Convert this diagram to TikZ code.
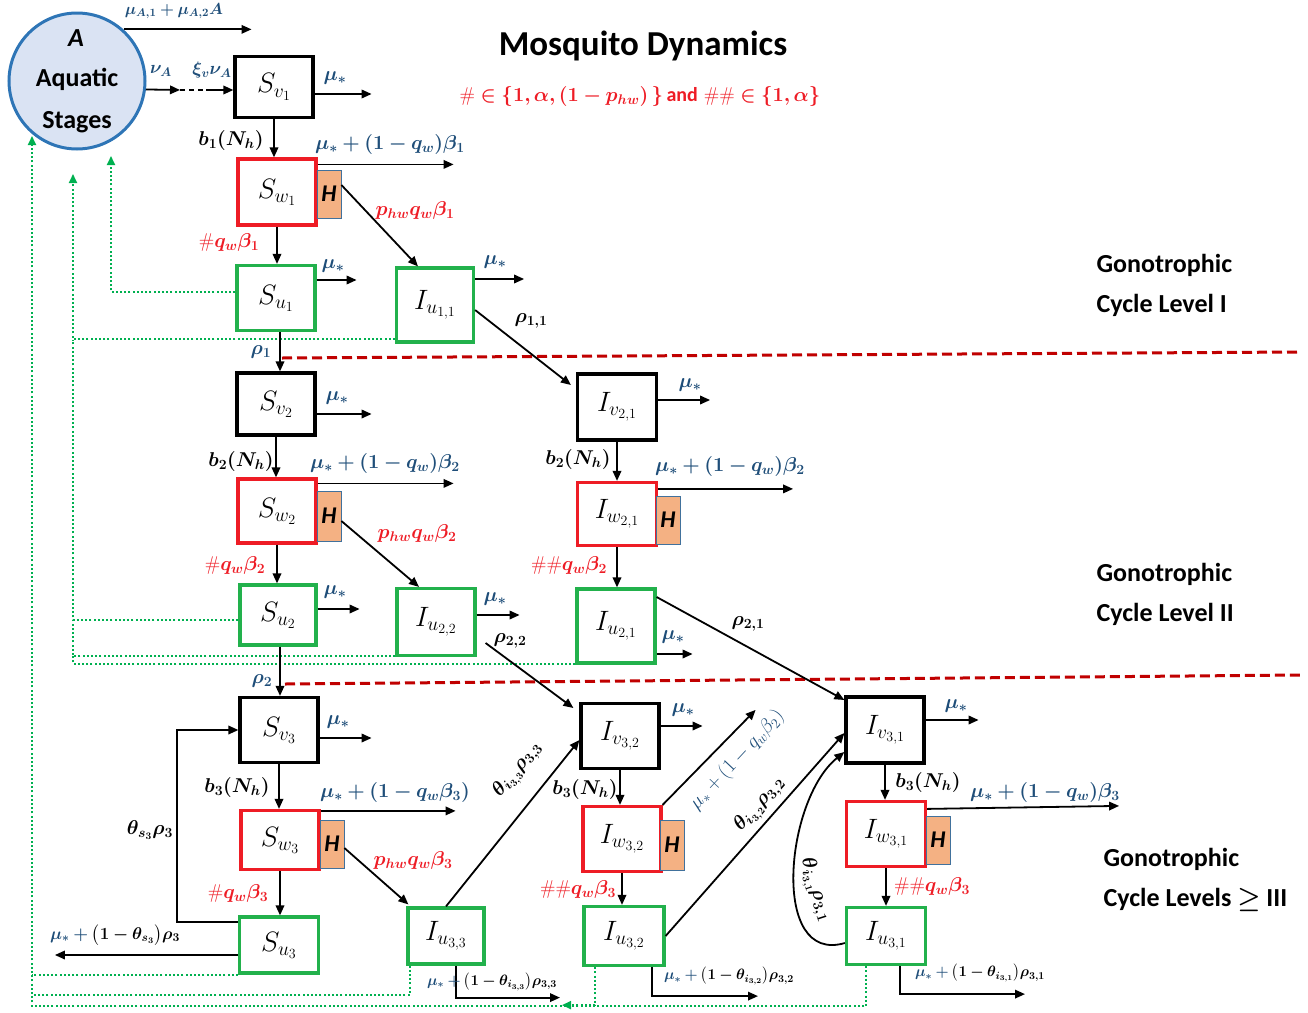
\RequirePackage{fix-cm}
\documentclass[tikz,border=0pt]{standalone}
\usepackage{amsmath}
\usepackage{bm}
\usepackage{fontspec}
\newfontfamily\carl{Carlito}
\usetikzlibrary{arrows.meta,calc}
\definecolor{lblue}{HTML}{1F4E79}
\definecolor{lred}{HTML}{EE1C25}
\definecolor{bgreen}{HTML}{22B14C}
\definecolor{dgreen}{HTML}{00B050}
\definecolor{dred}{HTML}{C00000}
\definecolor{cfill}{HTML}{DAE3F3}
\definecolor{cline}{HTML}{2E75B6}
\definecolor{hfill}{HTML}{F4B183}
\definecolor{hline}{HTML}{41719C}
\begin{document}
\begin{tikzpicture}[x=1pt,y=-1pt,
 box/.style={draw,line width=3.2pt,inner sep=0pt,font=\fontsize{28}{30}\selectfont},
 sz/.style 2 args={minimum width=#1pt,minimum height=#2pt},
 bk/.style={box,draw=black},
 rd/.style={box,draw=lred},
 gr/.style={box,draw=bgreen},
 hb/.style={draw=hline,line width=0.8pt,fill=hfill,minimum width=24pt,minimum height=48pt,inner sep=0pt,font=\carl\bfseries\itshape\fontsize{24}{24}\selectfont},
 arr/.style={line width=1.8pt,-{Triangle[length=10pt,width=8.5pt]}},
 lab/.style={font=\fontsize{20}{21}\selectfont,text=lblue,inner sep=1pt},
 rlab/.style={lab,text=lred},
 klab/.style={lab,text=black},
 slab/.style={inner sep=1pt,font=\fontsize{15}{15}\selectfont},
 gdot/.style={draw=dgreen,line width=2pt,dash pattern=on 2pt off 2.2pt},
 garr/.style={gdot,-{Triangle[length=9pt,width=8pt]}},
 rdash/.style={draw=dred,line width=3pt,dash pattern=on 10pt off 5pt},
 gtext/.style={font=\carl\bfseries\fontsize{26}{40}\selectfont,align=left,anchor=west}
]
\useasboundingbox (0,0) rectangle (1308,1012);

% ---------- aquatic stages ----------
\node[circle,draw=cline,fill=cfill,line width=3pt,minimum size=136pt,inner sep=0pt] (A) at (77,81) {};
\node[font=\carl\bfseries\itshape\fontsize{26}{26}\selectfont] (Atxt) at (76,38) {A};
\node[font=\carl\bfseries\fontsize{26}{42}\selectfont,align=center] (Stxt) at (77,101) {Aquatic\\Stages};

% ---------- titles ----------
\node[font=\carl\bfseries\fontsize{35}{40}\selectfont] (title) at (643,46) {Mosquito Dynamics};
\node[text=lred,font=\fontsize{20}{20}\selectfont] (sub) at (640,96) {$\bm{\#\in\{1,\alpha,(1-p_{hw})\,\}}$\,{\carl\bfseries and}\ $\bm{\#\#\in\{1,\alpha\}}$};
\node[gtext] (g1) at (1093,285) {Gonotrophic\\Cycle Level I};
\node[gtext] (g2) at (1093,594) {Gonotrophic\\Cycle Level II};
\node[gtext] (g3) at (1100,880) {Gonotrophic\\Cycle Levels $\bm{\geq}$ III};

% ---------- boxes ----------
\node[bk,sz={78}{61}] (sv1) at (274,87) {$S_{v_1}$};
\node[rd,sz={78}{66}] (sw1) at (277,192) {$S_{w_1}$};
\node[hb] (h1) at (329,194) {H};
\node[gr,sz={78}{65}] (su1) at (276,298) {$S_{u_1}$};
\node[gr,sz={77}{74}] (iu11) at (435,305) {$I_{u_{1,1}}$};
\node[bk,sz={78}{62}] (sv2) at (276,404) {$S_{v_2}$};
\node[bk,sz={79}{66}] (iv21) at (617,407) {$I_{v_{2,1}}$};
\node[rd,sz={78}{64}] (sw2) at (277,511) {$S_{w_2}$};
\node[hb,minimum height=50pt] (h2) at (329,516) {H};
\node[rd,sz={79}{63}] (iw21) at (617,514) {$I_{w_{2,1}}$};
\node[hb] (h21) at (668,520) {H};
\node[gr,sz={76}{60}] (su2) at (278,615) {$S_{u_2}$};
\node[gr,sz={78}{67}] (iu22) at (436,622) {$I_{u_{2,2}}$};
\node[gr,sz={78}{74}] (iu21) at (616,626) {$I_{u_{2,1}}$};
\node[bk,sz={78}{65}] (sv3) at (279,730) {$S_{v_3}$};
\node[bk,sz={78}{65}] (iv32) at (620,736) {$I_{v_{3,2}}$};
\node[bk,sz={78}{66}] (iv31) at (885,730) {$I_{v_{3,1}}$};
\node[rd,sz={78}{59}] (sw3) at (280,840) {$S_{w_3}$};
\node[hb] (h3) at (332,844) {H};
\node[rd,sz={78}{65}] (iw32) at (622,839) {$I_{w_{3,2}}$};
\node[hb,minimum height=50pt] (h32) at (672,845) {H};
\node[rd,sz={79}{65}] (iw31) at (886,834) {$I_{w_{3,1}}$};
\node[hb] (h31) at (938,840) {H};
\node[gr,sz={79}{56}] (su3) at (279,945) {$S_{u_3}$};
\node[gr,sz={76}{56}] (iu33) at (446,936) {$I_{u_{3,3}}$};
\node[gr,sz={80}{59}] (iu32) at (624,936) {$I_{u_{3,2}}$};
\node[gr,sz={79}{57}] (iu31) at (886,936) {$I_{u_{3,1}}$};

% ---------- green dotted returns ----------
\draw[garr] ([yshift=6pt]su1.west) -| (111,156);
\draw[garr] ([yshift=-34pt]iu11.west) -| (73,174);
\draw[gdot] ([yshift=-5pt]su2.west) -| (73,340);
\draw[gdot] ([yshift=-34pt]iu22.west) -| (73,620);
\draw[gdot] ([yshift=-38pt]iu21.west) -| (73,655);
\draw[garr] ([xshift=-20pt]iu31.south) -- ++(0,40) -| (32,136);
\draw[garr] ([xshift=-29pt]iu32.south) -- ++(0,38) -- ++(-33,0);
\draw[gdot] ([xshift=-36pt]iu33.south) -- ++(0,29) -- ++(-377,0);
\draw[gdot] (su3.south west) -- ++(-206,0);

% ---------- separators ----------
\coordinate (d1a) at (282,358); \coordinate (d1b) at (1300,352);
\coordinate (d2a) at (285,684); \coordinate (d2b) at (1300,675);
\draw[rdash] (d1a) -- (d1b);
\draw[rdash] (d2a) -- (d2b);

% ---------- A outflows ----------
\draw[arr] (A.48) -- ++(128,0);
\node[lab,font=\fontsize{16}{16}\selectfont] at (174,11) {$\bm{\mu_{A,1}+\mu_{A,2}A}$};
\coordinate (nu1) at (180,90); \coordinate (nu2) at (206,90);
\draw[arr] (A.-7) -- (nu1);
\draw[line width=1.6pt,dash pattern=on 5pt off 4pt] (nu1) -- (nu2);
\draw[arr] (nu2) -- (sv1.west |- nu2);
\node[lab,font=\fontsize{18}{18}\selectfont] at (161,71) {$\bm{\nu_A}$};
\node[lab,font=\fontsize{18}{18}\selectfont] at (212,70) {$\bm{\xi_v\nu_A}$};

% ---------- level I ----------
\draw[arr] ([yshift=-7pt]sv1.east) -- ++(57,0);
\node[lab] at (335,78) {$\bm{\mu_*}$};
\draw[arr] (sv1.south) -- (sv1.south |- sw1.north);
\node[klab] at (231,140) {$\bm{b_1(N_h)}$};
\draw[arr] ([yshift=-7pt]sw1.north east) -- ++(136,0);
\node[lab] at (390,144) {$\bm{\mu_*+(1-q_w)\beta_1}$};
\draw[arr] ([yshift=9pt]h1.east) -- ([xshift=-17pt]iu11.north);
\node[rlab] at (415,210) {$\bm{p_{hw}q_w\beta_1}$};
\draw[arr] (sw1.south) -- (sw1.south |- su1.north);
\node[rlab] at (229,243) {$\bm{\#q_w\beta_1}$};
\draw[arr] ([yshift=18pt]su1.east) -- ++(40,0);
\node[lab] at (333,266) {$\bm{\mu_*}$};
\draw[arr] ([xshift=4pt]su1.south) -- ([xshift=4pt]su1.south |- sv2.north);
\node[lab] at (261,352) {$\bm{\rho_1}$};
\draw[arr] ([yshift=26pt]iu11.east) -- ++(49,0);
\node[lab] at (495,262) {$\bm{\mu_*}$};
\draw[arr] ([yshift=-5pt]iu11.east) -- ([xshift=-5pt,yshift=22pt]iv21.west);
\node[klab] at (531,321) {$\bm{\rho_{1,1}}$};

% ---------- level II ----------
\draw[arr] ([yshift=-10pt]sv2.east) -- ++(55,0);
\node[lab] at (337,398) {$\bm{\mu_*}$};
\draw[arr] (sv2.south) -- (sv2.south |- sw2.north);
\node[klab] at (241,461) {$\bm{b_2(N_h)}$};
\draw[arr] ([yshift=-6pt]sw2.north east) -- ++(136,0);
\node[lab] at (385,463) {$\bm{\mu_*+(1-q_w)\beta_2}$};
\draw[arr] ([yshift=-5pt]h2.east) -- ([xshift=-17pt]iu22.north);
\node[rlab] at (417,533) {$\bm{p_{hw}q_w\beta_2}$};
\draw[arr] (sw2.south) -- (sw2.south |- su2.north);
\node[rlab] at (235,565) {$\bm{\#q_w\beta_2}$};
\draw[arr] ([yshift=6pt]su2.east) -- ++(42,0);
\node[lab] at (335,592) {$\bm{\mu_*}$};
\draw[arr] ([xshift=2pt]su2.south) -- ([xshift=2pt]su2.south |- sv3.north);
\node[lab] at (262,681) {$\bm{\rho_2}$};
\draw[arr] ([yshift=7pt]iu22.east) -- ++(43,0);
\node[lab] at (495,599) {$\bm{\mu_*}$};
\draw[arr] ([xshift=9pt,yshift=-21pt]iu22.east) -- ([xshift=-6pt,yshift=28pt]iv32.west);
\node[klab] at (510,641) {$\bm{\rho_{2,2}}$};
\draw[arr] ([yshift=7pt]iv21.east) -- ++(52,0);
\node[lab] at (690,385) {$\bm{\mu_*}$};
\draw[arr] (iv21.south) -- (iv21.south |- iw21.north);
\node[klab] at (578,459) {$\bm{b_2(N_h)}$};
\draw[arr] ([yshift=-8pt]iw21.north east) -- ++(135,0);
\node[lab] at (730,466) {$\bm{\mu_*+(1-q_w)\beta_2}$};
\draw[arr] (iw21.south) -- (iw21.south |- iu21.north);
\node[rlab] at (569,565) {$\bm{\#\#q_w\beta_2}$};
\draw[arr] ([yshift=-28pt]iu21.east) -- ++(36,0);
\node[lab] at (673,637) {$\bm{\mu_*}$};
\draw[arr] ([yshift=29pt]iu21.east) -- ([yshift=30pt]iv31.west);
\node[klab] at (748,624) {$\bm{\rho_{2,1}}$};

% ---------- level III ----------
\draw[arr] ([yshift=-8pt]sv3.east) -- ++(52,0);
\node[lab] at (338,722) {$\bm{\mu_*}$};
\draw[arr] (sv3.south) -- (sv3.south |- sw3.north);
\node[klab] at (237,787) {$\bm{b_3(N_h)}$};
\draw[arr] ([yshift=-2pt]sw3.north east) -- ++(135,0);
\node[lab] at (395,792) {$\bm{\mu_*+(1-q_w\beta_3)}$};
\draw[arr] ([yshift=-4pt]h3.east) -- ([xshift=2pt,yshift=2pt]iu33.north west);
\node[rlab] at (413,860) {$\bm{p_{hw}q_w\beta_3}$};
\draw[arr] (sw3.south) -- (sw3.south |- su3.north);
\node[rlab] at (238,893) {$\bm{\#q_w\beta_3}$};
\draw[arr] ([yshift=23pt]su3.west) -- ++(-61,0) |- (sv3.west);
\node[klab] at (150,830) {$\bm{\theta_{s_3}\rho_3}$};
\draw[arr] ([yshift=-10pt]su3.west) -- ++(-183,0);
\node[klab,font=\fontsize{17}{17}\selectfont] at (115,935) {\textcolor{lblue}{$\bm{\mu_*+{}}$}$\bigl(\bm{1-\theta_{s_3}}\bigr)\bm{\rho_3}$};

\draw[arr] (iu33.north) -- ([yshift=-4pt]iv32.west);
\node[klab,rotate=51] at (518,770) {$\bm{\theta_{i_{3,3}}\rho_{3,3}}$};
\draw[arr] ([yshift=10pt]iv32.east) -- ++(42,0);
\node[lab] at (683,710) {$\bm{\mu_*}$};
\draw[arr] (iv32.south) -- (iv32.south |- iw32.north);
\node[klab] at (585,789) {$\bm{b_3(N_h)}$};
\draw[arr] (iw32.north east) -- ++(93,-95);
\node[lab,rotate=47] at (737,760) {$\mu_*+(1-q_w\beta_2)$};
\draw[arr] (iw32.south) -- (iw32.south |- iu32.north);
\node[rlab] at (578,889) {$\bm{\#\#q_w\beta_3}$};
\draw[arr] (iu32.east) -- ([yshift=-3pt]iv31.west);
\node[klab,rotate=49] at (760,805) {$\bm{\theta_{i_{3,2}}\rho_{3,2}}$};
\draw[arr] ([yshift=-7pt]iu31.west) .. controls (770,965) and (785,800) .. ([yshift=-22pt]iv31.west);
\node[klab,rotate=-72] at (815,890) {$\bm{\theta_{i_{3,1}}\rho_{3,1}}$};
\draw[arr] ([yshift=10pt]iv31.east) -- ++(53,0);
\node[lab] at (956,706) {$\bm{\mu_*}$};
\draw[arr] (iv31.south) -- (iv31.south |- iw31.north);
\node[klab] at (928,782) {$\bm{b_3(N_h)}$};
\draw[arr] ([yshift=-9pt]iw31.north east) -- ++(192,-3);
\node[lab] at (1045,792) {$\bm{\mu_*+(1-q_w)\beta_3}$};
\draw[arr] (iw31.south) -- (iw31.south |- iu31.north);
\node[rlab] at (932,886) {$\bm{\#\#q_w\beta_3}$};

% ---------- bottom outflows ----------
\draw[arr] ([xshift=10pt]iu33.south) -- ++(0,32) -- ++(104,0);
\node[slab] at (492,982) {\textcolor{lblue}{$\bm{\mu_*+{}}$}$\bigl(\bm{1-\theta_{i_{3,3}}}\bigr)\bm{\rho_{3,3}}$};
\draw[arr] ([xshift=28pt]iu32.south) -- ++(0,29) -- ++(106,0);
\node[slab] at (729,976) {\textcolor{lblue}{$\bm{\mu_*+{}}$}$\bigl(\bm{1-\theta_{i_{3,2}}}\bigr)\bm{\rho_{3,2}}$};
\draw[arr] ([xshift=14pt]iu31.south) -- ++(0,28) -- ++(125,0);
\node[slab] at (980,973) {\textcolor{lblue}{$\bm{\mu_*+{}}$}$\bigl(\bm{1-\theta_{i_{3,1}}}\bigr)\bm{\rho_{3,1}}$};
\end{tikzpicture}
\end{document}
